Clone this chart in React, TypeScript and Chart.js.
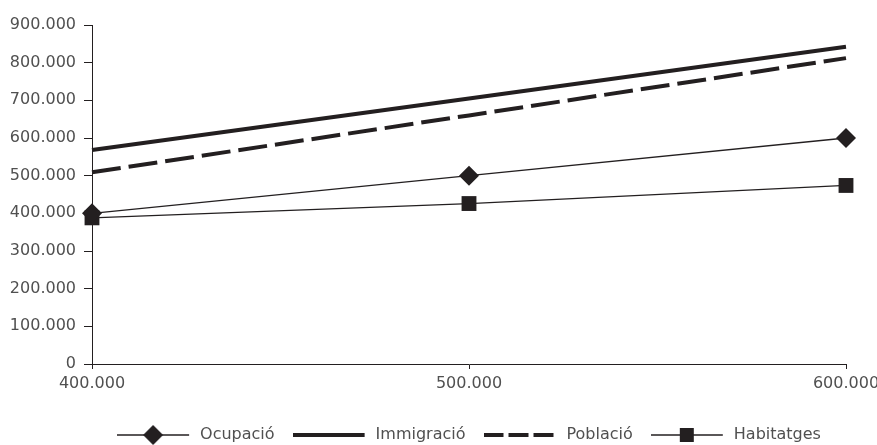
import { useEffect, useRef } from 'react';
import { Chart, registerables } from 'chart.js';

Chart.register(...registerables);

const categories = ['400.000', '500.000', '600.000'];
const seriesNames = ['Ocupació', 'Immigració', 'Població', 'Habitatges'];
const ocupacio = [400000, 500000, 600000];
const immigracio = [568000, 705000, 842000];
const poblacio = [509000, 660000, 812000];
const habitatges = [388000, 426000, 474000];
const yMin = 0;
const yMax = 900000;
const yStep = 100000;

const INK = '#231f20';
const TEXT = '#505050';
const FONT = "'DejaVu Sans', sans-serif";

function fmt(n: number): string {
  return Math.round(n).toString().replace(/\B(?=(\d{3})+(?!\d))/g, '.');
}

function legendIcon(kind: string): HTMLCanvasElement {
  const c = document.createElement('canvas');
  c.width = 75;
  c.height = 22;
  const g = c.getContext('2d')!;
  g.strokeStyle = INK;
  g.fillStyle = INK;
  const cy = 11;
  const w = 72;
  g.beginPath();
  if (kind === 'solid') {
    g.lineWidth = 4;
    g.moveTo(0, cy);
    g.lineTo(w, cy);
    g.stroke();
  } else if (kind === 'dashed') {
    g.lineWidth = 4;
    g.setLineDash([20, 5]);
    g.moveTo(0, cy);
    g.lineTo(70, cy);
    g.stroke();
  } else {
    g.lineWidth = 1.3;
    g.moveTo(0, cy);
    g.lineTo(w, cy);
    g.stroke();
    const cx = w / 2;
    g.beginPath();
    if (kind === 'diamond') {
      const r = 10;
      g.moveTo(cx - r, cy);
      g.lineTo(cx, cy - r);
      g.lineTo(cx + r, cy);
      g.lineTo(cx, cy + r);
      g.closePath();
    } else {
      const h = 7;
      g.rect(cx - h, cy - h, 2 * h, 2 * h);
    }
    g.fill();
  }
  return c;
}

export default function App() {
  const ref = useRef<HTMLCanvasElement | null>(null);

  useEffect(() => {
    document.body.style.margin = '0';
    const canvas = ref.current;
    if (!canvas) return;
    const icons = [legendIcon('diamond'), legendIcon('solid'), legendIcon('dashed'), legendIcon('square')];

    const chart = new Chart(canvas, {
      type: 'line',
      data: {
        labels: categories,
        datasets: [
          {
            label: seriesNames[0],
            data: ocupacio,
            borderColor: INK,
            backgroundColor: INK,
            borderWidth: 1.3,
            pointStyle: 'rectRot',
            pointRadius: 10,
            pointBackgroundColor: INK,
            pointBorderColor: INK,
            pointBorderWidth: 0,
            clip: false,
          },
          {
            label: seriesNames[1],
            data: immigracio,
            borderColor: INK,
            backgroundColor: INK,
            borderWidth: 4,
            pointRadius: 0,
            clip: false,
          },
          {
            label: seriesNames[2],
            data: poblacio,
            borderColor: INK,
            backgroundColor: INK,
            borderWidth: 4,
            borderDash: [29, 8],
            pointRadius: 0,
            clip: false,
          },
          {
            label: seriesNames[3],
            data: habitatges,
            borderColor: INK,
            backgroundColor: INK,
            borderWidth: 1.3,
            pointStyle: 'rect',
            pointRadius: 10.5,
            pointBackgroundColor: INK,
            pointBorderColor: INK,
            pointBorderWidth: 0,
            clip: false,
          },
        ],
      } as any,
      options: {
        animation: false,
        responsive: false,
        events: [],
        layout: { padding: { top: 25, right: 31, bottom: -8, left: 0 } },
        plugins: {
          tooltip: { enabled: false },
          legend: {
            position: 'bottom',
            fullSize: false,
            labels: {
              usePointStyle: true,
              pointStyleWidth: 75,
              padding: 18,
              color: TEXT,
              font: { family: FONT, size: 16 },
              generateLabels: (ch: any) =>
                ch.data.datasets.map((ds: any, i: number) => ({
                  text: ds.label,
                  pointStyle: icons[i],
                  fillStyle: INK,
                  strokeStyle: INK,
                  lineWidth: 0,
                  hidden: false,
                  datasetIndex: i,
                  fontColor: TEXT,
                })),
            },
          },
        },
        scales: {
          x: {
            type: 'category',
            offset: false,
            afterFit: (s: any) => {
              s.height = 45;
              s.paddingLeft = 0;
              s.paddingRight = 0;
            },
            grid: {
              display: true,
              drawOnChartArea: false,
              drawTicks: true,
              tickLength: 5,
              color: INK,
            },
            border: { display: true, color: INK, width: 1 },
            ticks: {
              color: TEXT,
              padding: 5,
              maxRotation: 0,
              font: { family: FONT, size: 16 },
            },
          },
          y: {
            min: yMin,
            max: yMax,
            afterFit: (s: any) => {
              s.width = 92;
              s.paddingTop = 0;
              s.paddingBottom = 0;
            },
            grid: {
              display: true,
              drawOnChartArea: false,
              drawTicks: true,
              tickLength: 8,
              color: INK,
            },
            border: { display: true, color: INK, width: 1 },
            ticks: {
              stepSize: yStep,
              color: TEXT,
              padding: 8,
              font: { family: FONT, size: 16 },
              callback: (v: any) => fmt(Number(v)),
            },
          },
        },
      } as any,
    });
    return () => chart.destroy();
  }, []);

  return (
    <div style={{ width: 877, height: 445 }}>
      <canvas ref={ref} width={877} height={445} style={{ display: 'block', width: 877, height: 445 }} />
    </div>
  );
}
